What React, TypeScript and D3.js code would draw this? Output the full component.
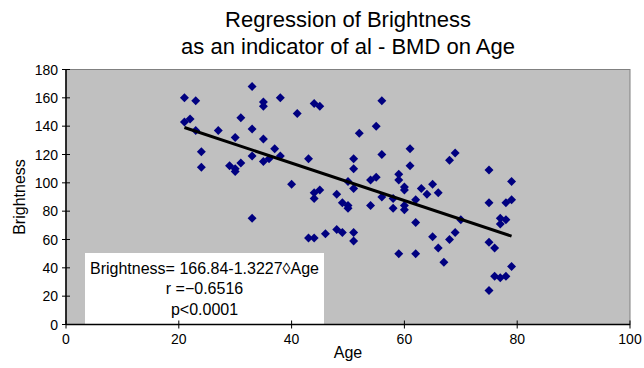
import React from 'react';
import * as d3 from 'd3';

// Age / Brightness pairs
const ages = [
  21, 21, 22, 23, 23, 24, 24, 27, 29, 30, 30, 30, 31, 31, 33, 33, 33, 33,
  35, 35, 35, 35, 36, 37, 38, 38, 40, 41, 43, 43, 44, 44, 44, 44, 45, 45,
  46, 48, 48, 49, 49, 50, 50, 50, 51, 51, 51, 51, 51, 52, 54, 54, 55, 55,
  56, 56, 56, 58, 58, 59, 59, 59, 60, 60, 60, 60, 61, 61, 62, 62, 62, 63,
  64, 65, 65, 66, 66, 67, 68, 68, 69, 69, 70, 75, 75, 75, 75, 76, 76, 77,
  77, 77, 78, 78, 78, 79, 79, 79,
];
const brightness = [
  160, 143, 145, 158, 137, 122, 111, 137, 112, 110, 108, 132, 146, 114, 168, 138, 119, 75,
  157, 154, 131, 115, 117, 124, 160, 119, 99, 149, 117, 61, 156, 93, 89, 61, 154, 95,
  64, 92, 67, 86, 65, 101, 84, 82, 117, 110, 96, 65, 59, 135, 102, 84, 140, 104,
  158, 120, 90, 89, 82, 106, 102, 50, 97, 95, 84, 81, 124, 112, 88, 72, 50, 96,
  92, 99, 62, 93, 54, 44, 116, 60, 121, 65, 74, 109, 86, 58, 24, 54, 34, 75,
  71, 33, 86, 74, 34, 101, 88, 41,
];

const xTicks = [0, 20, 40, 60, 80, 100];
const yTicks = [0, 20, 40, 60, 80, 100, 120, 140, 160, 180];

// fitted line: Brightness = 166.84 - 1.3227 * Age
const intercept = 166.84;
const slope = -1.3227;
const fitAges = [21, 79];

const titleLines = ['Regression of Brightness', 'as an indicator of al - BMD on Age'];
const legendLines = ['Brightness= 166.84-1.3227\u25CAAge', 'r =\u22120.6516', 'p<0.0001'];

const W = 644;
const H = 368;
const font = '"Liberation Sans", Arial, Helvetica, sans-serif';

export default function App() {
  const x = d3.scaleLinear().domain([0, 100]).range([66, 630]);
  const y = d3.scaleLinear().domain([0, 180]).range([324.5, 69.5]);

  const [x0, x1] = x.range();
  const [y0, y1] = y.range();

  const diamond = d3.symbol().type(d3.symbolSquare).size(40)()!;
  const fitLine = d3.line<number>()
    .x(a => x(a))
    .y(a => y(intercept + slope * a))(fitAges)!;

  return (
    <svg width={W} height={H} style={{ position: 'absolute', left: 0, top: 0 }} fontFamily={font}>
      <rect width={W} height={H} fill="#fff" />

      {titleLines.map((t, i) => (
        <text key={t} x={348} y={27 + i * 27} textAnchor="middle" fontSize={22} fill="#000">{t}</text>
      ))}

      {/* plot area */}
      <rect x={x0} y={y1} width={x1 - x0} height={y0 - y1} fill="#c0c0c0" stroke="#808080" strokeWidth={1} />

      {/* points */}
      {ages.map((a, i) => (
        <path key={i} d={diamond} transform={`translate(${x(a)},${y(brightness[i])}) rotate(45)`} fill="#000080" />
      ))}

      <path d={fitLine} fill="none" stroke="#000" strokeWidth={3} />

      {/* text box */}
      <rect x={85} y={253} width={239} height={y0 - 253} fill="#fff" />
      {legendLines.map((t, i) => (
        <text key={t} x={204.5} y={273.5 + i * 20.5} textAnchor="middle" fontSize={16} fill="#000">{t}</text>
      ))}

      {/* axes */}
      <line x1={x0} x2={x0} y1={y1} y2={y0} stroke="#000" strokeWidth={1.5} />
      <line x1={x0} x2={x1} y1={y0} y2={y0} stroke="#000" strokeWidth={1.5} />
      {yTicks.map(t => (
        <g key={t}>
          <line x1={x0 - 4} x2={x0 + 4} y1={y(t)} y2={y(t)} stroke="#000" />
          <text x={x0 - 8} y={y(t) + 5} textAnchor="end" fontSize={14} fill="#000">{t}</text>
        </g>
      ))}
      {xTicks.map(t => (
        <g key={t}>
          <line x1={x(t)} x2={x(t)} y1={y0 - 4} y2={y0 + 4} stroke="#000" />
          <text x={x(t)} y={y0 + 19} textAnchor="middle" fontSize={14} fill="#000">{t}</text>
        </g>
      ))}

      <text x={(x0 + x1) / 2} y={358} textAnchor="middle" fontSize={16} fill="#000">Age</text>
      <text transform={`translate(25,${(y0 + y1) / 2}) rotate(-90)`} textAnchor="middle" fontSize={16} fill="#000">Brightness</text>
    </svg>
  );
}
